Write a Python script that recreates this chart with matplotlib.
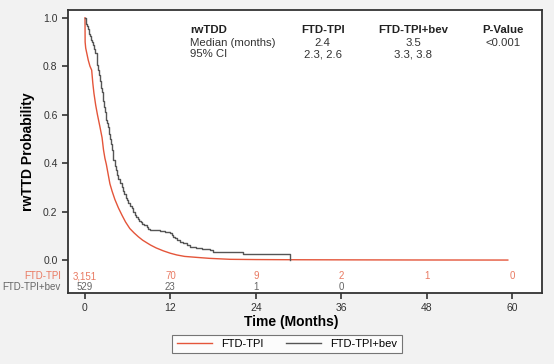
import matplotlib
matplotlib.use("Agg")
import matplotlib.pyplot as plt
from matplotlib.lines import Line2D

plt.rcParams['font.family'] = ['Liberation Sans', 'DejaVu Sans']

# KM estimates (months, survival)
t_ftd = [0, 0.02, 0.1, 0.46, 0.7, 0.94, 1.1, 1.26, 1.5, 1.75, 2.1, 2.4, 2.6, 2.8,
         3.0, 3.25, 3.5, 3.8, 4.2, 4.7, 5.2, 5.7, 6.3, 6.9, 7.5, 8.1, 8.7, 9.2, 10.0,
         11.0, 12.0, 12.9, 14.0, 15.7, 17.5, 20.4, 24.0, 30.0, 38.0, 46.0, 59.4]
s_ftd = [1.0, 0.9, 0.875, 0.825, 0.80, 0.784, 0.73, 0.688, 0.64, 0.60, 0.55, 0.505,
         0.455, 0.42, 0.395, 0.355, 0.315, 0.285, 0.25, 0.215, 0.185, 0.157, 0.13,
         0.112, 0.096, 0.082, 0.071, 0.062, 0.05, 0.038, 0.028, 0.021, 0.015, 0.011,
         0.007, 0.003, 0.002, 0.0012, 0.0007, 0.0003, 0.0]

t_bev = [0, 0.1, 0.2, 0.3, 0.4, 0.5, 0.6, 0.7, 0.8, 0.9, 1.0, 1.1, 1.17, 1.3, 1.45,
         1.64, 1.75, 1.85, 1.95, 2.1, 2.2, 2.3, 2.4, 2.5, 2.6, 2.7, 2.81, 2.9, 3.0,
         3.15, 3.28, 3.4, 3.51, 3.63, 3.75, 3.87, 3.98, 4.15, 4.3, 4.5, 4.7, 4.9,
         5.15, 5.33, 5.5, 5.7, 5.9, 6.1, 6.3, 6.56, 6.79, 7.0, 7.2, 7.4, 7.6, 7.8,
         8.0, 8.3, 8.67, 8.9, 9.13, 9.8, 10.5, 11.2, 11.94, 12.2, 12.4, 12.65, 12.87,
         13.3, 13.8, 14.3, 14.75, 15.6, 16.4, 17.56, 18.0, 22.2, 28.8]
s_bev = [1.0, 0.99, 0.975, 0.965, 0.955, 0.945, 0.935, 0.925, 0.915, 0.907, 0.90,
         0.893, 0.887, 0.87, 0.855, 0.825, 0.805, 0.785, 0.765, 0.74, 0.725, 0.71,
         0.695, 0.675, 0.655, 0.63, 0.61, 0.595, 0.58, 0.565, 0.55, 0.52, 0.50, 0.478,
         0.455, 0.433, 0.413, 0.39, 0.37, 0.35, 0.333, 0.316, 0.30, 0.285, 0.272,
         0.258, 0.246, 0.234, 0.224, 0.214, 0.198, 0.188, 0.179, 0.17, 0.163, 0.157,
         0.15, 0.144, 0.137, 0.13, 0.124, 0.122, 0.12, 0.116, 0.110, 0.103, 0.095,
         0.089, 0.083, 0.076, 0.069, 0.062, 0.055, 0.048, 0.044, 0.041, 0.034,
         0.027, 0.0]

risk_times = [0, 12, 24, 36, 48, 60]
risk_ftd = ['3,151', '70', '9', '2', '1', '0']
risk_bev = ['529', '23', '1', '0']

tbl_cols = ['rwTDD', 'FTD-TPI', 'FTD-TPI+bev', 'P-Value']
tbl_median = ['Median (months)', '2.4', '3.5', '<0.001']
tbl_ci = ['95% CI', '2.3, 2.6', '3.3, 3.8', '']

red = '#e4553a'
red_txt = '#e97a62'
grey = '#555555'
grey_txt = '#666666'

fig = plt.figure(figsize=(5.54, 3.64), dpi=100, facecolor='#f2f2f2')
ax = fig.add_axes([0.1227, 0.1964, 0.8556, 0.776])
ax.set_facecolor('white')

ax.plot(t_ftd, s_ftd, color=red, lw=1.0)
ax.plot(t_bev, s_bev, drawstyle='steps-post', color=grey, lw=1.0)

ax.set_xlim(-2.39, 64.2)
ax.set_ylim(-0.134, 1.032)
ax.set_xticks(risk_times)
ax.set_yticks([0, 0.2, 0.4, 0.6, 0.8, 1.0])
ax.set_yticklabels(['%.1f' % v for v in [0, 0.2, 0.4, 0.6, 0.8, 1.0]])
ax.tick_params(axis='both', labelsize=7.5, colors='#333333', length=4, width=1.2)
for sp in ax.spines.values():
    sp.set_color('#333333')
    sp.set_linewidth(1.3)

ax.set_xlabel('Time (Months)', fontsize=10, fontweight='bold')
ax.xaxis.set_label_coords(0.47, -0.08)
ax.set_ylabel('rwTTD Probability', fontsize=10, fontweight='bold', labelpad=6)

# number at risk
for x, s in zip(risk_times, risk_ftd):
    ax.text(x, -0.066, s, color=red_txt, fontsize=7, ha='center', va='center')
for x, s in zip(risk_times, risk_bev):
    ax.text(x, -0.111, s, color=grey_txt, fontsize=7, ha='center', va='center')
ax.text(-3.4, -0.066, 'FTD-TPI', color=red_txt, fontsize=7, ha='right', va='center', clip_on=False)
ax.text(-3.4, -0.111, 'FTD-TPI+bev', color=grey_txt, fontsize=7, ha='right', va='center', clip_on=False)

# summary table
col_x = [14.8, 33.4, 46.1, 58.7]
col_ha = ['left', 'center', 'center', 'center']
for x, ha, h, m, c in zip(col_x, col_ha, tbl_cols, tbl_median, tbl_ci):
    ax.text(x, 0.949, h, fontsize=8.2, fontweight='bold', ha=ha, va='center', color='#222222')
    ax.text(x, 0.898, m, fontsize=8.2, ha=ha, va='center', color='#333333')
    ax.text(x, 0.850, c, fontsize=8.2, ha=ha, va='center', color='#333333')

handles = [Line2D([], [], color=red, lw=1.0), Line2D([], [], color=grey, lw=1.0)]
leg = fig.legend(handles, ['FTD-TPI', 'FTD-TPI+bev'], loc='center', bbox_to_anchor=(0.518, 0.055),
                 ncol=2, fontsize=8, frameon=True, fancybox=False, handlelength=3.2,
                 columnspacing=2.0, borderpad=0.4)
leg.get_frame().set_edgecolor('#555555')
leg.get_frame().set_linewidth(0.8)

fig.savefig('out.png', dpi=100, facecolor=fig.get_facecolor())
